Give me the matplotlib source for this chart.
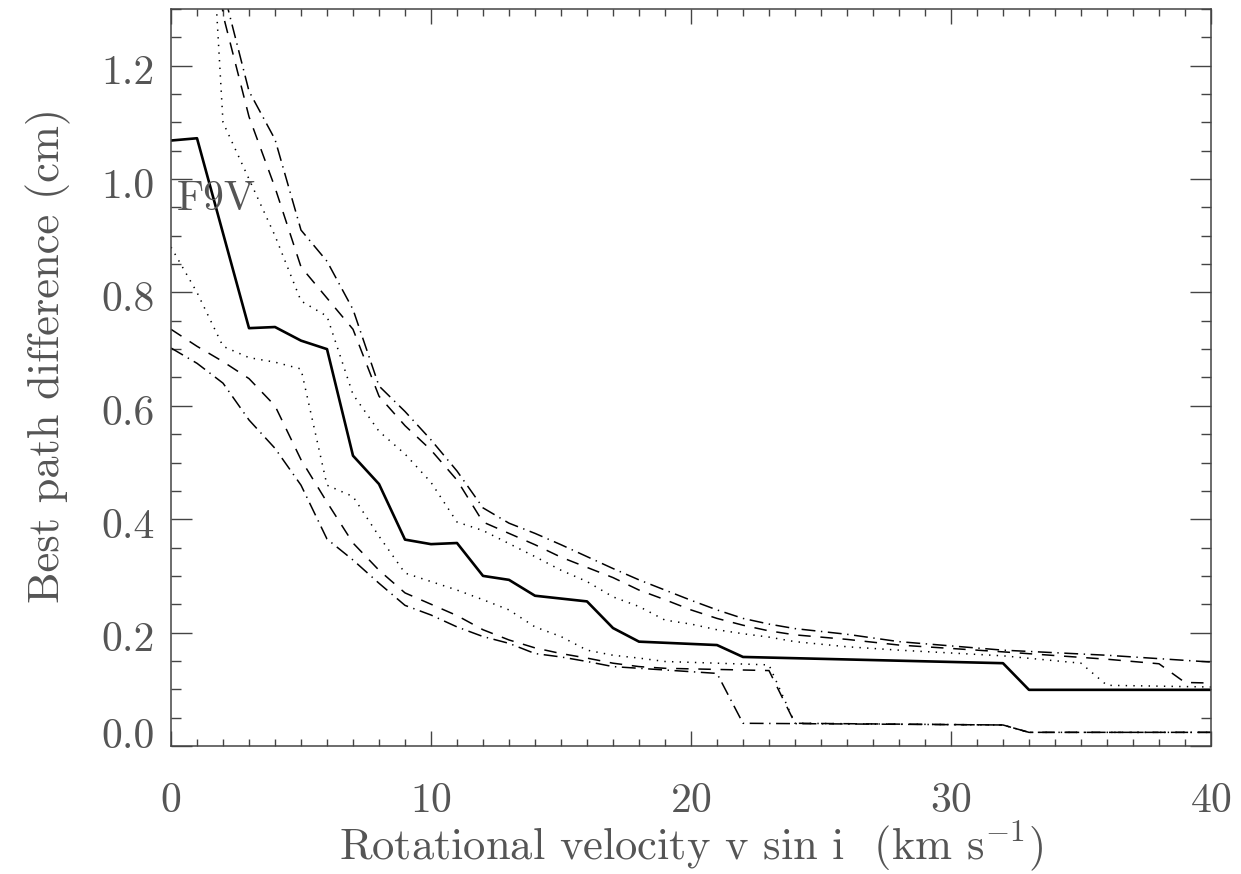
"""Best path difference vs. projected rotational velocity for an F9V star."""

import matplotlib
matplotlib.use("Agg")
import matplotlib.pyplot as plt
from matplotlib.ticker import MultipleLocator
from matplotlib.transforms import ScaledTranslation

plt.rcParams["font.family"] = ["cmr10", "DejaVu Serif"]
plt.rcParams["mathtext.fontset"] = "cm"
plt.rcParams["axes.formatter.use_mathtext"] = True
plt.rcParams["lines.scale_dashes"] = False

TXT = "#555555"

# ---- data: v sin i (km/s) and best path difference (cm) ----
# central curve
v_mid = [0, 1, 3, 4, 5, 6, 7, 8, 9, 10, 11, 12, 13, 14, 16, 17, 18, 21, 22, 32, 33, 40]
d_mid = [1.068, 1.072, 0.737, 0.739, 0.715, 0.700, 0.512, 0.462, 0.364, 0.356,
         0.358, 0.300, 0.293, 0.265, 0.255, 0.208, 0.184, 0.178, 0.157, 0.146,
         0.099, 0.099]

# upper envelope curves
v_up_dot = [1, 2, 3, 4, 5, 6, 7, 8, 9, 10, 11, 12, 13, 14, 15, 16, 17, 18, 19,
            20, 21, 22, 23, 24, 26, 28, 32, 35, 36, 40]
d_up_dot = [1.90, 1.10, 1.00, 0.90, 0.785, 0.758, 0.620, 0.555, 0.515, 0.465,
            0.395, 0.380, 0.357, 0.334, 0.310, 0.290, 0.263, 0.246, 0.222, 0.215,
            0.205, 0.198, 0.192, 0.184, 0.175, 0.169, 0.159, 0.146, 0.107, 0.104]

v_up_dash = [1, 2, 3, 4, 5, 6, 7, 8, 9, 10, 11, 12, 13, 14, 15, 16, 17, 18, 19,
             20, 21, 22, 23, 24, 26, 28, 32, 36, 38, 39, 40]
d_up_dash = [1.80, 1.29, 1.11, 0.985, 0.845, 0.790, 0.735, 0.617, 0.565, 0.522,
             0.469, 0.395, 0.375, 0.355, 0.333, 0.315, 0.297, 0.275, 0.258, 0.240,
             0.225, 0.213, 0.203, 0.196, 0.188, 0.178, 0.166, 0.153, 0.145, 0.112,
             0.111]

v_up_dd = [1, 2, 3, 4, 5, 6, 7, 8, 9, 10, 11, 12, 13, 14, 15, 16, 17, 18, 19,
           20, 21, 22, 23, 24, 26, 28, 32, 36, 40]
d_up_dd = [2.00, 1.335, 1.155, 1.070, 0.910, 0.855, 0.770, 0.635, 0.590, 0.540,
           0.485, 0.420, 0.393, 0.375, 0.355, 0.334, 0.313, 0.293, 0.275, 0.257,
           0.240, 0.225, 0.215, 0.207, 0.197, 0.184, 0.169, 0.160, 0.148]

# lower envelope curves
v_lo_dot = [0, 1, 2, 3, 4, 5, 6, 7, 8, 9, 10, 11, 12, 13, 14, 15, 16, 17, 18,
            19, 21, 23, 24, 32, 33, 40]
d_lo_dot = [0.880, 0.800, 0.705, 0.685, 0.677, 0.665, 0.460, 0.440, 0.370, 0.305,
            0.290, 0.275, 0.258, 0.240, 0.210, 0.193, 0.169, 0.160, 0.155, 0.149,
            0.146, 0.143, 0.040, 0.037, 0.024, 0.024]

v_lo_dash = [0, 1, 2, 3, 4, 5, 6, 7, 8, 9, 10, 11, 12, 13, 14, 15, 16, 17, 18,
             19, 21, 23, 24, 32, 33, 40]
d_lo_dash = [0.735, 0.705, 0.678, 0.648, 0.600, 0.505, 0.430, 0.358, 0.310, 0.270,
             0.250, 0.230, 0.205, 0.187, 0.173, 0.163, 0.155, 0.146, 0.140, 0.137,
             0.135, 0.133, 0.040, 0.037, 0.024, 0.024]

v_lo_dd = [0, 1, 2, 3, 4, 5, 6, 7, 8, 9, 10, 11, 12, 13, 14, 15, 16, 17, 18,
           19, 21, 22, 32, 33, 40]
d_lo_dd = [0.702, 0.675, 0.640, 0.575, 0.525, 0.460, 0.365, 0.328, 0.287, 0.248,
           0.231, 0.210, 0.193, 0.181, 0.163, 0.157, 0.149, 0.140, 0.137, 0.134,
           0.128, 0.040, 0.037, 0.024, 0.024]

# IDL-like line styles (in points)
DOT = (0, (1.0, 4.5))
DASH = (0, (9.0, 7.0))
DASHDOT = (0, (10.0, 4.0, 1.0, 4.0))

fig = plt.figure(figsize=(12.41, 8.74), dpi=100)
ax = fig.add_axes([0.1378, 0.1465, 0.8380, 0.8432])

ax.plot(v_mid, d_mid, color="black", lw=1.9, ls="-")
ax.plot(v_up_dot, d_up_dot, color="black", lw=1.1, ls=DOT)
ax.plot(v_up_dash, d_up_dash, color="black", lw=1.1, ls=DASH)
ax.plot(v_up_dd, d_up_dd, color="black", lw=1.1, ls=DASHDOT)
ax.plot(v_lo_dot, d_lo_dot, color="black", lw=1.1, ls=DOT)
ax.plot(v_lo_dash, d_lo_dash, color="black", lw=1.1, ls=DASH)
ax.plot(v_lo_dd, d_lo_dd, color="black", lw=1.1, ls=DASHDOT)

ax.text(0.23, 0.946, "F9V", fontsize=30, color=TXT, ha="left", va="baseline")

ax.set_xlim(0, 40)
ax.set_ylim(0, 1.3)
ax.set_xticks([0, 10, 20, 30, 40])
ax.set_yticks([0.0, 0.2, 0.4, 0.6, 0.8, 1.0, 1.2])
ax.set_yticklabels(["0.0", "0.2", "0.4", "0.6", "0.8", "1.0", "1.2"])
ax.xaxis.set_minor_locator(MultipleLocator(1))
ax.yaxis.set_minor_locator(MultipleLocator(0.05))

ax.tick_params(which="both", direction="in", top=True, right=True,
               color="#444444", width=1.0, labelcolor=TXT, labelsize=30)
ax.tick_params(axis="x", which="major", length=11, pad=26)
ax.tick_params(axis="x", which="minor", length=5)
ax.tick_params(axis="y", which="major", length=15, pad=12)
ax.tick_params(axis="y", which="minor", length=7.5)
for sp in ax.spines.values():
    sp.set_color("#444444")
    sp.set_linewidth(1.1)

# y labels sit a little below their ticks, the bottom one lifted clear of the x axis
for i, tick in enumerate(ax.yaxis.get_major_ticks()):
    dy = 13 / 100 if i == 0 else -4 / 100
    tick.label1.set_transform(tick.label1.get_transform()
                              + ScaledTranslation(0, dy, fig.dpi_scale_trans))

ax.set_xlabel("Rotational velocity v sin i  (km s$^{-1}$)", fontsize=32,
              color=TXT, va="top")
ax.xaxis.set_label_coords(0.5, -0.100)
ax.set_ylabel("Best path difference (cm)", fontsize=32, color=TXT, va="center")
ax.yaxis.set_label_coords(-0.118, 0.53)

fig.savefig("out.png", dpi=100)
